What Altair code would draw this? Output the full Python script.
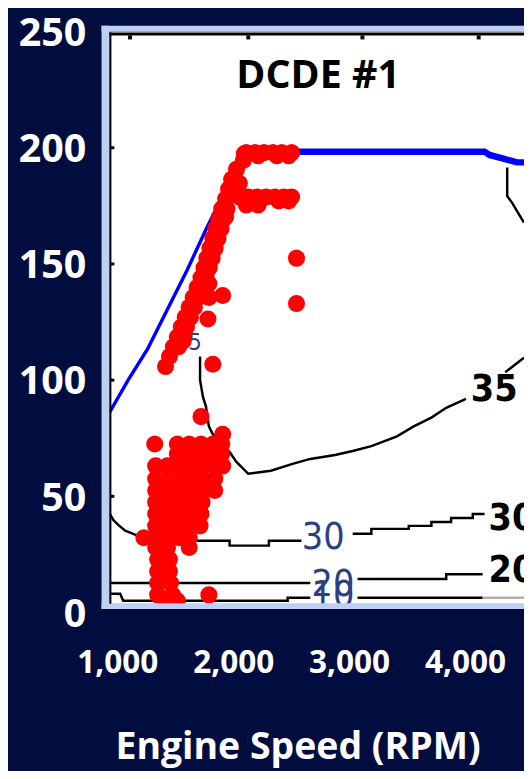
import altair as alt
import pandas as pd

# ---------------- data ----------------
x_domain = [932, 4509]
y_domain = [0, 250]
x_ticks = [1000, 2000, 3000, 4000]
y_ticks = [0, 50, 100, 150, 200, 250]
inner_top_ticks = [1110, 2130, 3115, 4118]
inner_left_ticks = [50, 100, 150, 200]

# max torque curve (blue)
blue_diag_rpm = [932, 1093, 1263, 1433, 1603, 1773, 1943, 2070]
blue_diag_t = [86.0, 100.0, 113.6, 130.5, 147.4, 165.7, 182.6, 196.6]
blue_top_rpm = [2105, 4169, 4211, 4339, 4449, 4509]
blue_top_t = [198.3, 198.3, 196.9, 195.2, 193.7, 193.7]

# operating points (red)
band_rpm = [1416, 1450, 1484, 1518, 1552, 1586, 1620, 1654, 1688, 1722, 1748, 1773,
            1799, 1824, 1850, 1875, 1901, 1935, 1960, 1986, 2028, 2087, 2096,
            2053, 2036, 1935, 1790, 1909, 1782, 1790, 1569]
band_t = [105.9, 110.2, 114.4, 118.6, 122.9, 127.1, 131.3, 135.6, 139.8, 144.1, 148.3, 152.5,
          156.8, 161.0, 165.2, 169.5, 173.7, 178.0, 182.2, 186.4, 190.7, 194.5, 197.4,
          184.7, 180.9, 170.3, 135.6, 136.4, 126.3, 141.5, 116.9]
band_right_rpm = [1529, 1563, 1597, 1631, 1665, 1699, 1733, 1767, 1793, 1818, 1844,
                  1869, 1895, 1920, 1946]
band_right_t = [114.4, 118.6, 122.9, 127.1, 131.3, 135.6, 139.8, 144.1, 148.3, 152.5,
                156.8, 161.0, 165.2, 169.5, 173.7]
top_row_rpm = [2113, 2189, 2266, 2342, 2419, 2504, 2215, 2376, 2478]
top_row_t = [197.9, 197.9, 197.9, 197.9, 197.9, 197.9, 196.6, 196.6, 196.6]
second_row_rpm = [2053, 2130, 2206, 2283, 2359, 2436, 2504, 2113, 2215, 2393, 2478]
second_row_t = [178.8, 178.8, 178.8, 178.8, 178.8, 178.8, 178.8, 175.4, 175.4, 177.1, 177.1]
single_rpm = [1824, 1722, 2546, 2546]
single_t = [106.8, 84.3, 152.5, 133.0]
low_rows = [
    (76.7, [1909]),
    (72.5, [1323, 1518, 1620, 1722, 1824, 1901]),
    (68.2, [1518, 1620, 1722, 1824, 1901]),
    (63.1, [1331, 1433, 1535, 1637, 1739, 1841, 1909]),
    (57.6, [1331, 1433, 1535, 1637, 1739, 1841]),
    (52.5, [1331, 1433, 1535, 1637, 1739, 1841]),
    (47.5, [1331, 1433, 1535, 1637, 1731]),
    (42.4, [1331, 1433, 1535, 1637, 1722]),
    (37.3, [1331, 1433, 1535, 1637, 1714]),
    (32.2, [1229, 1331, 1433, 1535, 1620]),
    (28.0, [1331, 1433, 1620]),
    (22.9, [1348, 1450]),
    (17.8, [1348, 1450]),
    (12.7, [1348, 1459]),
    (7.6, [1348, 1476, 1790]),
    (5.1, [1416, 1518]),
]

# efficiency contours (black)
c35a_rpm = [1714, 1714, 1739, 1765, 1790, 1824, 1969, 2028, 2130, 2325, 2512, 2665,
            2878, 3031, 3192, 3413, 3557, 3710, 3838, 4008]
c35a_t = [110.2, 100.0, 92.8, 88.6, 80.1, 76.7, 69.1, 64.8, 59.7, 61.0, 64.0, 66.1,
          67.8, 69.5, 71.6, 75.8, 80.1, 83.9, 88.1, 91.9]
c35b_rpm = [4347, 4509]
c35b_t = [103.4, 109.7]
c35c_rpm = [4364, 4364, 4407, 4458, 4509]
c35c_t = [191.5, 179.2, 176.3, 172.0, 167.8]
c30a_rpm = [932, 966, 1008, 1068, 1153, 1263, 1476, 1969, 1969, 2308, 2308, 2589]
c30a_t = [42.8, 39.8, 37.7, 35.2, 33.5, 31.8, 30.9, 30.9, 28.8, 28.8, 30.9, 30.9]
c30b_rpm = [3031, 3192, 3192, 3515, 3515, 3710, 3710, 3880, 3880, 4067, 4067, 4169]
c30b_t = [33.9, 33.9, 36.0, 36.0, 37.3, 37.3, 39.0, 39.0, 40.7, 40.7, 42.4, 42.4]
c20a_rpm = [932, 2665]
c20a_t = [12.7, 12.7]
c20b_rpm = [3073, 3838, 3838, 4152]
c20b_t = [14.4, 14.4, 16.5, 16.5]
c10a_rpm = [932, 1025, 1051, 2470, 2470, 2665]
c10a_t = [8.1, 8.1, 5.1, 5.1, 6.4, 6.4]
c10b_rpm = [3073, 4152]
c10b_t = [6.4, 6.4]
c10_gray_rpm = [4152, 4509]
c10_gray_t = [6.4, 6.4]

# contour labels
mid_label_text = ["30", "20", "10"]
mid_label_rpm = [2776, 2861, 2861]
mid_label_t = [31.8, 11.9, 7.2]
small_label_text = ["35"]
small_label_rpm = [1612]
small_label_t = [116.1]
right_label_text = ["35", "30", "20"]
right_label_rpm = [4050, 4203, 4203]
right_label_t = [95.8, 40.3, 17.8]

title_text = ["DCDE #1"]
title_rpm = [2733]
title_t = [225.8]

# ---------------- frames ----------------
red_rpm = band_rpm + band_right_rpm + top_row_rpm + second_row_rpm + single_rpm
red_t = band_t + band_right_t + top_row_t + second_row_t + single_t
for t, xs in low_rows:
    red_rpm += xs
    red_t += [t] * len(xs)
df_red = pd.DataFrame({"rpm": red_rpm, "torque": red_t})

df_blue_diag = pd.DataFrame({"rpm": blue_diag_rpm, "torque": blue_diag_t})
df_blue_top = pd.DataFrame({"rpm": blue_top_rpm, "torque": blue_top_t})

segs = {
    "c35a": (c35a_rpm, c35a_t), "c35b": (c35b_rpm, c35b_t), "c35c": (c35c_rpm, c35c_t),
    "c30a": (c30a_rpm, c30a_t), "c30b": (c30b_rpm, c30b_t),
    "c20a": (c20a_rpm, c20a_t), "c20b": (c20b_rpm, c20b_t),
    "c10a": (c10a_rpm, c10a_t), "c10b": (c10b_rpm, c10b_t),
}
rows = []
for s, (xs, ys) in segs.items():
    for i, (a, b) in enumerate(zip(xs, ys)):
        rows.append({"seg": s, "i": i, "rpm": a, "torque": b})
df_contour = pd.DataFrame(rows)
df_gray = pd.DataFrame({"rpm": c10_gray_rpm, "torque": c10_gray_t, "i": [0, 1]})

df_mid = pd.DataFrame({"rpm": mid_label_rpm, "torque": mid_label_t, "label": mid_label_text})
df_small = pd.DataFrame({"rpm": small_label_rpm, "torque": small_label_t, "label": small_label_text})
df_right = pd.DataFrame({"rpm": right_label_rpm, "torque": right_label_t, "label": right_label_text})
df_title = pd.DataFrame({"rpm": title_rpm, "torque": title_t, "label": title_text})
df_top_ticks = pd.DataFrame({"rpm": inner_top_ticks})
df_left_ticks = pd.DataFrame({"torque": inner_left_ticks})
one = pd.DataFrame({"a": [0]})

NAVY = "#010d3e"
LIGHT = "#bccff5"
W, H = 421, 590

x_axis = alt.Axis(values=x_ticks, format=",d", title="Engine Speed (RPM)", grid=False,
                  domain=False, ticks=False, tickSize=0, labelFont="Open Sans",
                  labelFontWeight="bold", labelFontSize=32, labelColor="white",
                  labelPadding=36, labelBaseline="top", labelFlush=False,
                  labelOverlap=False, titleFont="Open Sans", titleFontWeight="bold",
                  titleFontSize=38, titleColor="white", titleX=191, titleY=148,
                  titleBaseline="alphabetic", titleAlign="center")
y_axis = alt.Axis(values=y_ticks, title=None, grid=False, domain=False, ticks=False,
                  tickSize=0, labelFont="Open Sans", labelFontWeight="bold",
                  labelFontSize=40, labelColor="white", labelPadding=24, labelOffset=2,
                  labelFlush=False, labelOverlap=False, labelBaseline="middle")


def X():
    return alt.X("rpm:Q", scale=alt.Scale(domain=x_domain, nice=False, zero=False), axis=x_axis)


def Y():
    return alt.Y("torque:Q", scale=alt.Scale(domain=y_domain, nice=False, zero=False), axis=y_axis)


narrow = '"Liberation Sans Narrow", "DejaVu Sans Condensed", sans-serif'

contours = alt.Chart(df_contour).mark_line(color="black", strokeWidth=2.5, clip=True).encode(
    x=X(), y=Y(), detail="seg:N", order="i:Q")
gray = alt.Chart(df_gray).mark_line(color="#b0b0b0", strokeWidth=2.5, clip=True).encode(
    x=X(), y=Y(), order="i:Q")
mid_labels = alt.Chart(df_mid).mark_text(font=narrow, fontSize=38, color="#2b3f85",
                                         align="center", baseline="middle", clip=True).encode(
    x=X(), y=Y(), text="label:N")
small_labels = alt.Chart(df_small).mark_text(font=narrow, fontSize=24, color="#2b3f85",
                                             align="center", baseline="middle", clip=True).encode(
    x=X(), y=Y(), text="label:N")
right_labels = alt.Chart(df_right).mark_text(font=narrow, fontSize=38, fontWeight="bold",
                                             color="black", align="left", baseline="middle",
                                             clip=True).encode(x=X(), y=Y(), text="label:N")
blue_diag = alt.Chart(df_blue_diag).mark_line(color="#0000ff", strokeWidth=3.5, clip=True).encode(
    x=X(), y=Y())
blue_top = alt.Chart(df_blue_top).mark_line(color="#0000ff", strokeWidth=6.5, clip=True).encode(
    x=X(), y=Y())
red = alt.Chart(df_red).mark_circle(color="#ff0000", size=300, opacity=1, clip=True).encode(
    x=X(), y=Y())
title = alt.Chart(df_title).mark_text(font="Open Sans", fontSize=40, fontWeight="bold",
                                      color="black", align="center",
                                      baseline="alphabetic").encode(x=X(), y=Y(), text="label:N")
top_ticks = alt.Chart(df_top_ticks).mark_rule(color="black", strokeWidth=4).encode(
    x=X(), y=alt.value(4), y2=alt.value(8))
left_ticks = alt.Chart(df_left_ticks).mark_rule(color="black", strokeWidth=3).encode(
    y=Y(), x=alt.value(1), x2=alt.value(5))

frame = [
    alt.Chart(one).mark_rule(color=LIGHT, strokeWidth=8).encode(
        x=alt.value(-4), y=alt.value(-6), y2=alt.value(587)),
    alt.Chart(one).mark_rule(color=LIGHT, strokeWidth=6).encode(
        y=alt.value(-3), x=alt.value(-8), x2=alt.value(W)),
    alt.Chart(one).mark_rule(color=LIGHT, strokeWidth=6).encode(
        y=alt.value(583.5), x=alt.value(-8), x2=alt.value(W)),
    alt.Chart(one).mark_rule(color=NAVY, strokeWidth=4).encode(
        y=alt.value(588.5), x=alt.value(-8), x2=alt.value(W)),
    alt.Chart(one).mark_rule(color="black", strokeWidth=2).encode(
        x=alt.value(1), y=alt.value(1), y2=alt.value(581)),
    alt.Chart(one).mark_rule(color="black", strokeWidth=3).encode(
        y=alt.value(2.5), x=alt.value(0), x2=alt.value(W)),
]

chart = alt.layer(
    contours, gray, mid_labels, small_labels, right_labels, blue_diag, blue_top, red,
    top_ticks, left_ticks, *frame, title
).properties(
    width=W, height=H,
    autosize=alt.AutoSizeParams(type="none"),
    padding={"left": 103, "top": 18, "right": 0, "bottom": 155},
    background=NAVY,
).configure_view(fill="white", strokeWidth=0)

chart.save("out.html", embed_options={"renderer": "svg", "actions": False})
